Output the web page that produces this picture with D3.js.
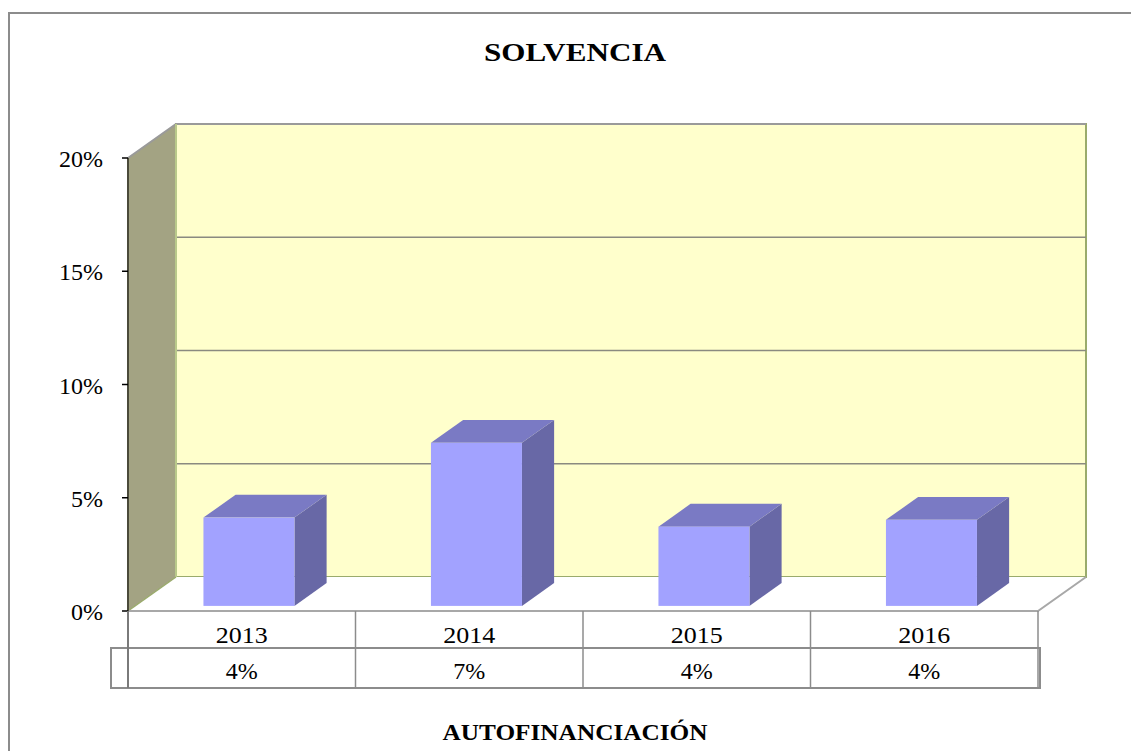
<!DOCTYPE html>
<html>
<head>
<meta charset="utf-8">
<script src="https://cdn.jsdelivr.net/npm/d3@7"></script>
<style>
  body { margin: 0; background: #fff; }
  svg { display: block; font-family: "Liberation Serif", "Times New Roman", serif; }
</style>
</head>
<body>
<div id="chart"></div>
<script>
const years = ["2013", "2014", "2015", "2016"];
const values = [0.039, 0.072, 0.035, 0.038];
const valueLabels = ["4%", "7%", "4%", "4%"];
const yTicks = [0, 0.05, 0.10, 0.15, 0.20];

const W = 1131, H = 751;
const depthX = 48, depthY = -34;   // back wall offset

const svg = d3.select("#chart").append("svg")
  .attr("width", W)
  .attr("height", H);

// outer frame
svg.append("rect")
  .attr("x", 9).attr("y", 13)
  .attr("width", W + 20).attr("height", H + 20)
  .attr("fill", "#fff")
  .attr("stroke", "#8c8c8c")
  .attr("stroke-width", 2);

const x = d3.scaleBand().domain(years).range([128, 1038]);
const y = d3.scaleLinear().domain([0, 0.2]).range([611, 158]);

// project a front point into depth z (0 = front, 1 = back)
const proj = (px, py, z) => [px + z * depthX, py + z * depthY];
const poly = pts => pts.map(p => p.join(",")).join(" ");

const x0 = x.range()[0], x1 = x.range()[1];
const yTop = y(0.2), yBot = y(0);

// back wall
svg.append("polygon")
  .attr("points", poly([proj(x0, yTop, 1), proj(x1, yTop, 1), proj(x1, yBot, 1), proj(x0, yBot, 1)]))
  .attr("fill", "#ffffcc")
  .attr("stroke", "#9aab6c")
  .attr("stroke-width", 2);

// left wall
svg.append("polygon")
  .attr("points", poly([[x0, yTop], proj(x0, yTop, 1), proj(x0, yBot, 1), [x0, yBot]]))
  .attr("fill", "#a3a383")
  .attr("stroke", "none");

// wall top edges
svg.append("polyline")
  .attr("points", poly([[x0, yTop], proj(x0, yTop, 1), proj(x1, yTop, 1)]))
  .attr("fill", "none")
  .attr("stroke", "#9a9a9a")
  .attr("stroke-width", 2);

// gridlines on back wall
svg.selectAll(".grid")
  .data(yTicks.filter(t => t > 0 && t < 0.2))
  .join("line")
  .attr("x1", d => proj(x0, y(d), 1)[0])
  .attr("x2", d => proj(x1, y(d), 1)[0])
  .attr("y1", d => proj(x0, y(d), 1)[1])
  .attr("y2", d => proj(x1, y(d), 1)[1])
  .attr("stroke", "#8a8a80")
  .attr("stroke-width", 1.5);

// left wall inner edge
svg.append("line")
  .attr("x1", proj(x0, yTop, 1)[0]).attr("y1", proj(x0, yTop, 1)[1])
  .attr("x2", proj(x0, yBot, 1)[0]).attr("y2", proj(x0, yBot, 1)[1])
  .attr("stroke", "#b9c98a")
  .attr("stroke-width", 2);

// floor
svg.append("polygon")
  .attr("points", poly([[x0, yBot], proj(x0, yBot, 1), proj(x1, yBot, 1), [x1, yBot]]))
  .attr("fill", "#fff")
  .attr("stroke", "none");
svg.append("line")
  .attr("x1", x0).attr("y1", yBot).attr("x2", proj(x0, yBot, 1)[0]).attr("y2", proj(x0, yBot, 1)[1])
  .attr("stroke", "#9aab6c").attr("stroke-width", 1.5);
svg.append("polyline")
  .attr("points", poly([[x0, yBot], [x1, yBot], proj(x1, yBot, 1)]))
  .attr("fill", "none")
  .attr("stroke", "#a8a8a8")
  .attr("stroke-width", 2);

// y axis
svg.append("line")
  .attr("x1", x0).attr("x2", x0)
  .attr("y1", yTop).attr("y2", yBot)
  .attr("stroke", "#4a4a3a").attr("stroke-width", 2);

svg.selectAll(".tick")
  .data(yTicks)
  .join("line")
  .attr("x1", x0 - 6).attr("x2", x0)
  .attr("y1", d => y(d)).attr("y2", d => y(d))
  .attr("stroke", "#000").attr("stroke-width", 1.5);

svg.selectAll(".ylab")
  .data(yTicks)
  .join("text")
  .attr("x", 103)
  .attr("y", d => y(d) + 9)
  .attr("text-anchor", "end")
  .attr("font-size", 24)
  .text(d => d3.format(".0%")(d));

// bars
const barW = x.bandwidth() * 0.4;
const zA = 0.15, zB = 0.82;
const bars = svg.selectAll(".bar")
  .data(years.map((yr, i) => ({ yr, v: values[i] })))
  .join("g");

bars.each(function(d) {
  const g = d3.select(this);
  const bl = x(d.yr) + (x.bandwidth() - barW) / 2;
  const br = bl + barW;
  const t = y(d.v), b = y(0);
  // right side
  g.append("polygon")
    .attr("points", poly([proj(br, t, zA), proj(br, t, zB), proj(br, b, zB), proj(br, b, zA)]))
    .attr("fill", "#6868a6");
  // top
  g.append("polygon")
    .attr("points", poly([proj(bl, t, zA), proj(bl, t, zB), proj(br, t, zB), proj(br, t, zA)]))
    .attr("fill", "#7a7ac4");
  // front
  const f0 = proj(bl, t, zA), f1 = proj(br, b, zA);
  g.append("rect")
    .attr("x", f0[0]).attr("y", f0[1])
    .attr("width", f1[0] - f0[0]).attr("height", f1[1] - f0[1])
    .attr("fill", "#a2a2ff");
});

// data table
const row1Top = yBot, row1Bot = 648, row2Bot = 688;
const lineCol = "#8c8c8c";
const cols = years.map(yr => x(yr)).concat([x1]);

svg.selectAll(".tcol")
  .data(cols)
  .join("line")
  .attr("x1", d => d).attr("x2", d => d)
  .attr("y1", row1Top).attr("y2", row2Bot)
  .attr("stroke", lineCol).attr("stroke-width", 1.5);

svg.append("rect")
  .attr("x", 111).attr("y", row1Bot)
  .attr("width", x1 + 2 - 111).attr("height", row2Bot - row1Bot)
  .attr("fill", "none")
  .attr("stroke", lineCol).attr("stroke-width", 2);

svg.append("line")
  .attr("x1", x0).attr("x2", x0)
  .attr("y1", row1Top).attr("y2", row2Bot)
  .attr("stroke", "#7a7a7a").attr("stroke-width", 2);

svg.selectAll(".cat")
  .data(years)
  .join("text")
  .attr("x", d => x(d) + x.bandwidth() / 2)
  .attr("y", 643)
  .attr("text-anchor", "middle")
  .attr("font-size", 24)
  .attr("textLength", 52)
  .attr("lengthAdjust", "spacingAndGlyphs")
  .text(d => d);

svg.selectAll(".val")
  .data(valueLabels)
  .join("text")
  .attr("x", (d, i) => x(years[i]) + x.bandwidth() / 2)
  .attr("y", 679)
  .attr("text-anchor", "middle")
  .attr("font-size", 24)
  .text(d => d);

// titles
svg.append("text")
  .attr("x", 575).attr("y", 61)
  .attr("text-anchor", "middle")
  .attr("font-size", 26)
  .attr("font-weight", "bold")
  .attr("textLength", 182)
  .attr("lengthAdjust", "spacingAndGlyphs")
  .text("SOLVENCIA");

svg.append("text")
  .attr("x", 575).attr("y", 740)
  .attr("text-anchor", "middle")
  .attr("font-size", 24)
  .attr("font-weight", "bold")
  .attr("textLength", 265)
  .attr("lengthAdjust", "spacingAndGlyphs")
  .text("AUTOFINANCIACIÓN");
</script>
</body>
</html>
